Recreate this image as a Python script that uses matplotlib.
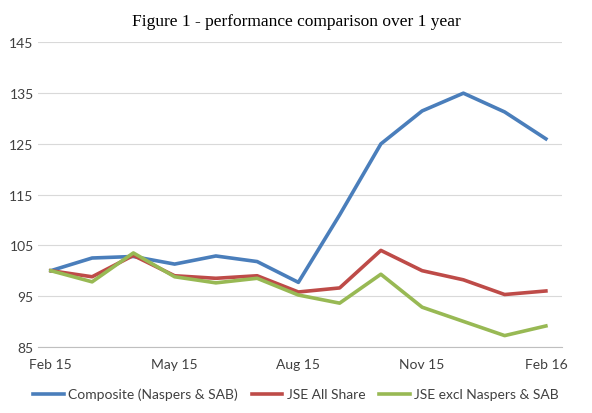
import matplotlib.pyplot as plt
import numpy as np

months = ["Feb 15", "Mar 15", "Apr 15", "May 15", "Jun 15", "Jul 15", "Aug 15",
          "Sep 15", "Oct 15", "Nov 15", "Dec 15", "Jan 16", "Feb 16"]
composite = [100, 102.5, 102.8, 101.3, 102.9, 101.8, 97.7, 111, 125, 131.5, 135, 131.3, 126]
jse_all = [100, 98.8, 103, 99, 98.5, 99, 95.8, 96.6, 104, 100, 98.2, 95.3, 96]
jse_excl = [100, 97.8, 103.5, 98.8, 97.6, 98.5, 95.2, 93.6, 99.3, 92.8, 90, 87.2, 89.1]

plt.rcParams["font.family"] = ["Lato", "DejaVu Sans"]

fig, ax = plt.subplots(figsize=(5.92, 4.14), dpi=100)
fig.subplots_adjust(left=0.065, right=0.95, top=0.895, bottom=0.16)

x = np.arange(len(months))
ax.plot(x, composite, color="#4a7ebb", lw=2.6, label="Composite (Naspers & SAB)")
ax.plot(x, jse_all, color="#be4b48", lw=2.6, label="JSE All Share")
ax.plot(x, jse_excl, color="#98b954", lw=2.6, label="JSE excl Naspers & SAB")

ax.set_ylim(85, 145)
ax.set_yticks(range(85, 146, 10))
ax.set_xlim(-0.3, 12.4)
ax.set_xticks(x[::3])
ax.set_xticklabels(months[::3])
ax.yaxis.grid(True, color="#d9d9d9", lw=0.8)
ax.set_axisbelow(True)
for s in ["top", "right", "left"]:
    ax.spines[s].set_visible(False)
ax.spines["bottom"].set_color("#bfbfbf")
ax.tick_params(length=0, labelsize=10, colors="#404040")
ax.tick_params(axis="x", pad=8)

fig.suptitle("Figure 1 - performance comparison over 1 year", family="Liberation Serif",
             fontsize=12.5, y=0.965)
fig.legend(loc="lower center", ncol=3, frameon=False, fontsize=10,
           bbox_to_anchor=(0.5, 0.0), handlelength=2.2, columnspacing=1.0,
           handletextpad=0.3, labelcolor="#404040")

fig.savefig("out.png")
